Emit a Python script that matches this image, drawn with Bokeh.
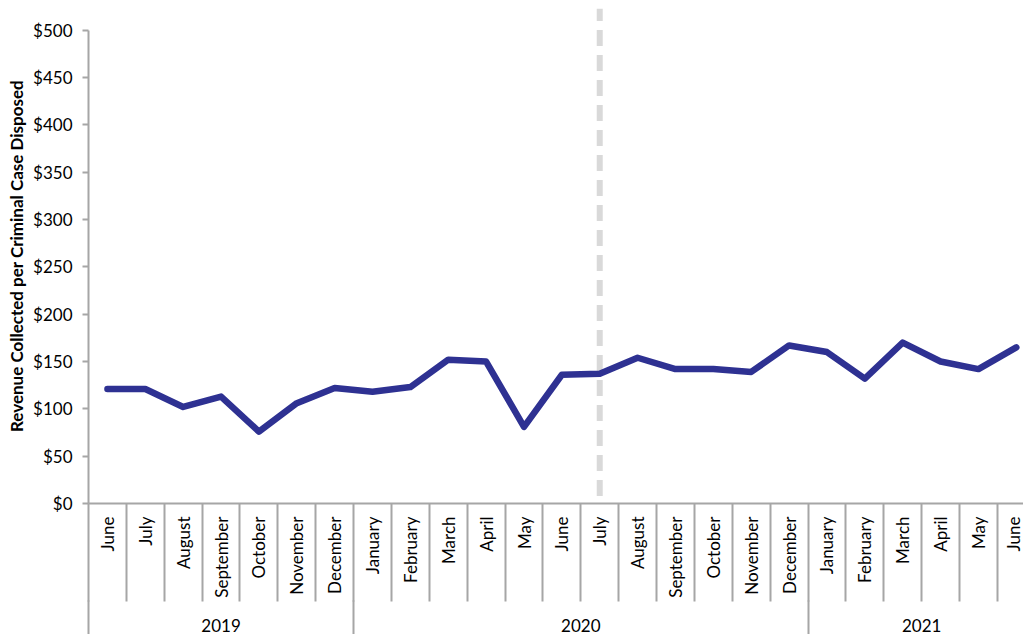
import math
from bokeh.plotting import figure
from bokeh.models import Range1d, FixedTicker, LinearAxis, NumeralTickFormatter
from bokeh.embed import file_html
from bokeh.resources import INLINE

# ---- data ----
months = ["June", "July", "August", "September", "October", "November", "December",
          "January", "February", "March", "April", "May", "June", "July", "August",
          "September", "October", "November", "December",
          "January", "February", "March", "April", "May", "June"]
month_years = ["2019"] * 7 + ["2020"] * 12 + ["2021"] * 6
revenue = [121, 121, 102, 113, 76, 106, 122, 118, 123, 152, 150, 81, 136,
           137, 154, 142, 142, 139, 167, 160, 132, 170, 150, 142, 165]
years = ["2019", "2020", "2021"]
y_ticks = [0, 50, 100, 150, 200, 250, 300, 350, 400, 450, 500]
marker_month = ("2020", "July")
y_title = "Revenue Collected per Criminal Case Disposed"

# ---- derived positions ----
xs = list(range(len(months)))
year_idx = {y: [i for i, yy in enumerate(month_years) if yy == y] for y in years}
year_centers = [(min(year_idx[y]) + max(year_idx[y])) / 2 for y in years]
year_bounds = [min(year_idx[y]) - 0.5 for y in years] + [len(months) - 0.5]
month_bounds = [i - 0.5 for i in range(len(months) + 1)]
marker_x = [i for i in xs if (month_years[i], months[i]) == marker_month][0]

FONT = "Lato"
GRAY = "#a6a6a6"

p = figure(width=1023, height=634,
           x_range=Range1d(-0.5, 24.19), y_range=Range1d(0, 523),
           min_border_left=88, min_border_right=0, min_border_top=8, min_border_bottom=130,
           toolbar_location=None, output_backend="svg")
p.outline_line_color = None
p.xgrid.visible = False
p.ygrid.visible = False
p.background_fill_color = "white"
p.border_fill_color = "white"

# vertical dashed marker
p.segment(x0=[marker_x], y0=[8], x1=[marker_x], y1=[523],
          line_color="#d9d9d9", line_width=6, line_dash="16 9")

# data line
p.line(xs, revenue, line_color="#2E3192", line_width=6.5,
       line_join="round", line_cap="round")

# y axis
ya = p.yaxis[0]
ya.ticker = FixedTicker(ticks=y_ticks)
ya.formatter = NumeralTickFormatter(format="$0")
ya.bounds = (0, 500)
ya.axis_line_color = GRAY
ya.axis_line_width = 2
ya.major_tick_line_color = GRAY
ya.major_tick_line_width = 2
ya.major_tick_out = 6
ya.major_tick_in = 0
ya.minor_tick_line_color = None
ya.minor_tick_out = 0
ya.minor_tick_in = 0
ya.major_label_standoff = 10
ya.major_label_text_font = FONT
ya.major_label_text_font_size = "17px"
ya.major_label_text_color = "black"
ya.axis_label = y_title
ya.axis_label_text_font = FONT
ya.axis_label_text_font_style = "bold"
ya.axis_label_text_font_size = "17px"
ya.axis_label_text_color = "black"
ya.axis_label_standoff = 3

# x axis: months (long minor ticks act as category separators)
MONTH_SEP = 98
xa = p.xaxis[0]
xa.ticker = FixedTicker(ticks=xs, minor_ticks=month_bounds)
xa.major_label_overrides = {i: m for i, m in zip(xs, months)}
xa.major_label_orientation = math.pi / 2
xa.major_label_text_font = FONT
xa.major_label_text_font_size = "17px"
xa.major_label_text_color = "black"
xa.major_label_standoff = 13 - MONTH_SEP
xa.major_tick_line_color = None
xa.major_tick_out = 0
xa.major_tick_in = 0
xa.minor_tick_line_color = GRAY
xa.minor_tick_line_width = 2
xa.minor_tick_out = MONTH_SEP
xa.minor_tick_in = 0
xa.axis_line_color = GRAY
xa.axis_line_width = 2

# x axis: years
YEAR_SEP = 60
ya2 = LinearAxis(ticker=FixedTicker(ticks=year_centers, minor_ticks=year_bounds))
ya2.major_label_overrides = {c: y for c, y in zip(year_centers, years)}
ya2.major_label_text_font = FONT
ya2.major_label_text_font_size = "17px"
ya2.major_label_text_color = "black"
ya2.major_label_standoff = 18 - YEAR_SEP
ya2.major_tick_line_color = None
ya2.major_tick_out = 0
ya2.major_tick_in = 0
ya2.minor_tick_line_color = GRAY
ya2.minor_tick_line_width = 2
ya2.minor_tick_out = YEAR_SEP
ya2.minor_tick_in = 0
ya2.axis_line_color = None
p.add_layout(ya2, "below")

open("out.html", "w").write(file_html(p, INLINE))
